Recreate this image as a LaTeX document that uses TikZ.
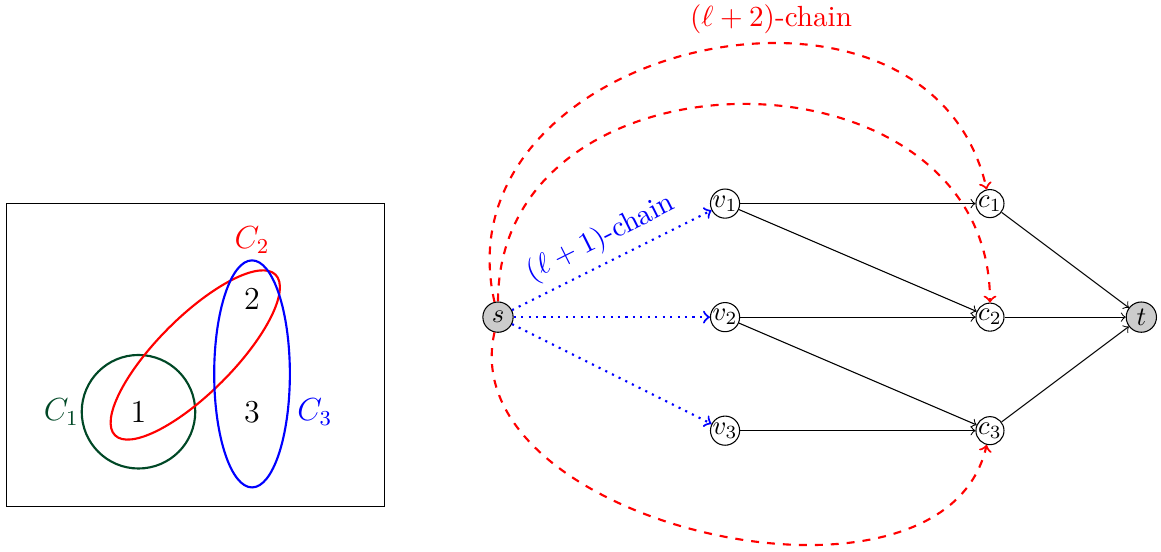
\documentclass[tikz,border=0pt]{standalone}
\usepackage{amsmath,amssymb}
\usepackage{tikz}
\definecolor{venngreen}{RGB}{0,72,38}

\begin{document}
\begin{tikzpicture}[
    vtx/.style={circle, draw, inner sep=0pt},
    term/.style={vtx, fill=gray!40, minimum size=0.4cm},
    arc/.style={->},
    chain/.style={->, red, thick, dashed},
    feed/.style={->, blue, thick, dotted},
    lbl/.style={font=\fontsize{10.95}{13.6}\selectfont},
    setlbl/.style={font=\fontsize{12}{14.5}\selectfont}]
  \useasboundingbox (-6.58,-3.1) rectangle (8.76,4.19);
  \draw (-6.5,-2.5) rectangle (-1.5,1.5);
  \draw[venngreen, thick] (-4.75,-1.25) circle (0.75);
  \draw[red, thick] (-4,-0.5) ellipse [x radius=1.5, y radius=0.5, rotate=45];
  \draw[blue, thick] (-3.25,-0.75) ellipse [x radius=0.5, y radius=1.5];
  \node[setlbl] (one) at (-4.75,-1.25) {$1$};
  \node[setlbl] (two) at (-3.25,0.24) {$2$};
  \node[setlbl] (three) at (-3.25,-1.25) {$3$};
  \node[setlbl, venngreen] (cone) at (-5.77,-1.25) {$C_1$};
  \node[setlbl, red] (ctwo) at (-3.25,1.02) {$C_2$};
  \node[setlbl, blue] (cthree) at (-2.42,-1.25) {$C_3$};

  \node[term] (s) at (0,0) {$s$};
  \node[vtx] (v1) at (3,1.5) {$v_1$};
  \node[vtx] (v2) at (3,0) {$v_2$};
  \node[vtx] (v3) at (3,-1.5) {$v_3$};
  \node[vtx] (c1) at (6.5,1.5) {$c_1$};
  \node[vtx] (c2) at (6.5,0) {$c_2$};
  \node[vtx] (c3) at (6.5,-1.5) {$c_3$};
  \node[term] (t) at (8.5,0) {$t$};
  \foreach \a/\b in {v1/c1, v1/c2, v2/c2, v2/c3, v3/c3, c1/t, c2/t, c3/t}
    \draw[arc] (\a) -- (\b);
  \draw[feed] (s) -- node[lbl, midway, above, sloped] (lblone) {$(\ell+1)$-chain} (v1);
  \draw[feed] (s) -- (v2);
  \draw[feed] (s) -- (v3);
  \draw[chain] (s) to[bend left=90, looseness=1.34]
        node[lbl, pos=0.6, above] (lbltwo) {$(\ell+2)$-chain} (c1);
  \draw[chain] (s) to[bend left=90, looseness=1.37] (c2);
  \draw[chain] (s) to[bend right=90] (c3);
\end{tikzpicture}
\end{document}
